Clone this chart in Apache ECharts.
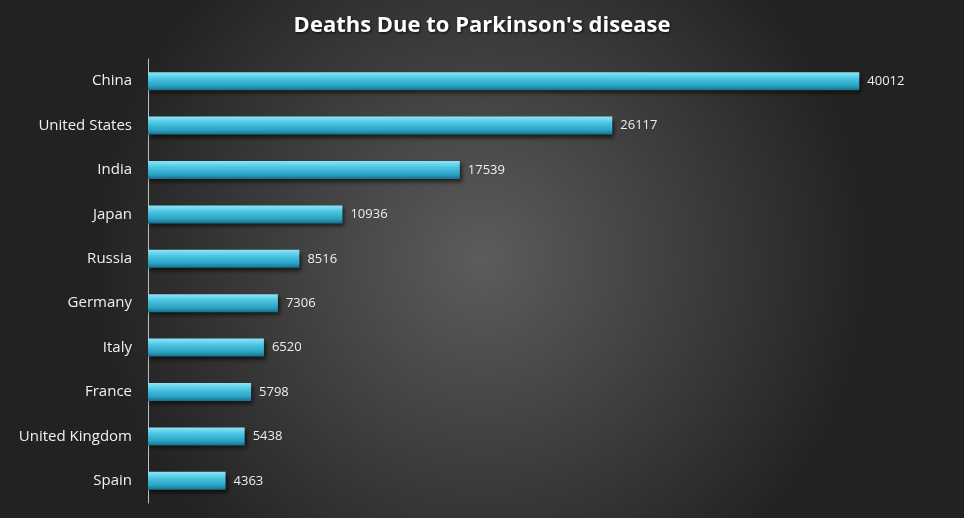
<!DOCTYPE html>
<html>
<head>
<meta charset="utf-8">
<script src="https://cdn.jsdelivr.net/npm/echarts@6/dist/echarts.min.js"></script>
<style>
html,body{margin:0;padding:0;}
#chart{width:964px;height:518px;}
</style>
</head>
<body>
<div id="chart"></div>
<script>
// 数据
var countries = ['China', 'United States', 'India', 'Japan', 'Russia', 'Germany', 'Italy', 'France', 'United Kingdom', 'Spain'];
var deaths = [40012, 26117, 17539, 10936, 8516, 7306, 6520, 5798, 5438, 4363];

var chart = echarts.init(document.getElementById('chart'));
var option = {
    backgroundColor: {
        type: 'radial', x: 0.5, y: 0.5, r: 0.75,
        colorStops: [{offset: 0, color: '#5c5c5c'}, {offset: 1, color: '#222222'}]
    },
    title: {
        text: "Deaths Due to Parkinson's disease",
        left: 'center', top: 10,
        textStyle: {
            color: '#ffffff', fontSize: 22, fontWeight: 'bold', fontFamily: 'Open Sans',
            textShadowColor: 'rgba(0,0,0,0.8)', textShadowBlur: 3, textShadowOffsetX: 1, textShadowOffsetY: 1
        }
    },
    grid: {left: 148, right: 16, top: 59, bottom: 15},
    xAxis: {
        type: 'value', min: 0, max: 45000, show: false,
        splitLine: {show: false}
    },
    yAxis: {
        type: 'category', data: countries, inverse: true,
        axisLine: {show: true, lineStyle: {color: '#bfbfbf', width: 1}},
        axisTick: {show: false},
        axisLabel: {color: '#f0f0f0', fontSize: 15, fontFamily: 'Open Sans', margin: 16}
    },
    series: [{
        type: 'bar',
        data: deaths,
        barWidth: 18,
        itemStyle: {
            color: {
                type: 'linear', x: 0, y: 0, x2: 0, y2: 1,
                colorStops: [
                    {offset: 0, color: '#8ee6f7'},
                    {offset: 0.35, color: '#4cc5e2'},
                    {offset: 0.75, color: '#2aa3c4'},
                    {offset: 1, color: '#17708a'}
                ]
            },
            shadowColor: 'rgba(0,0,0,0.6)', shadowBlur: 4, shadowOffsetX: 2, shadowOffsetY: 3
        },
        label: {
            show: true, position: 'right', distance: 8,
            color: '#eeeeee', fontSize: 13, fontFamily: 'Open Sans'
        }
    }]
};
chart.setOption(option);
</script>
</body>
</html>
